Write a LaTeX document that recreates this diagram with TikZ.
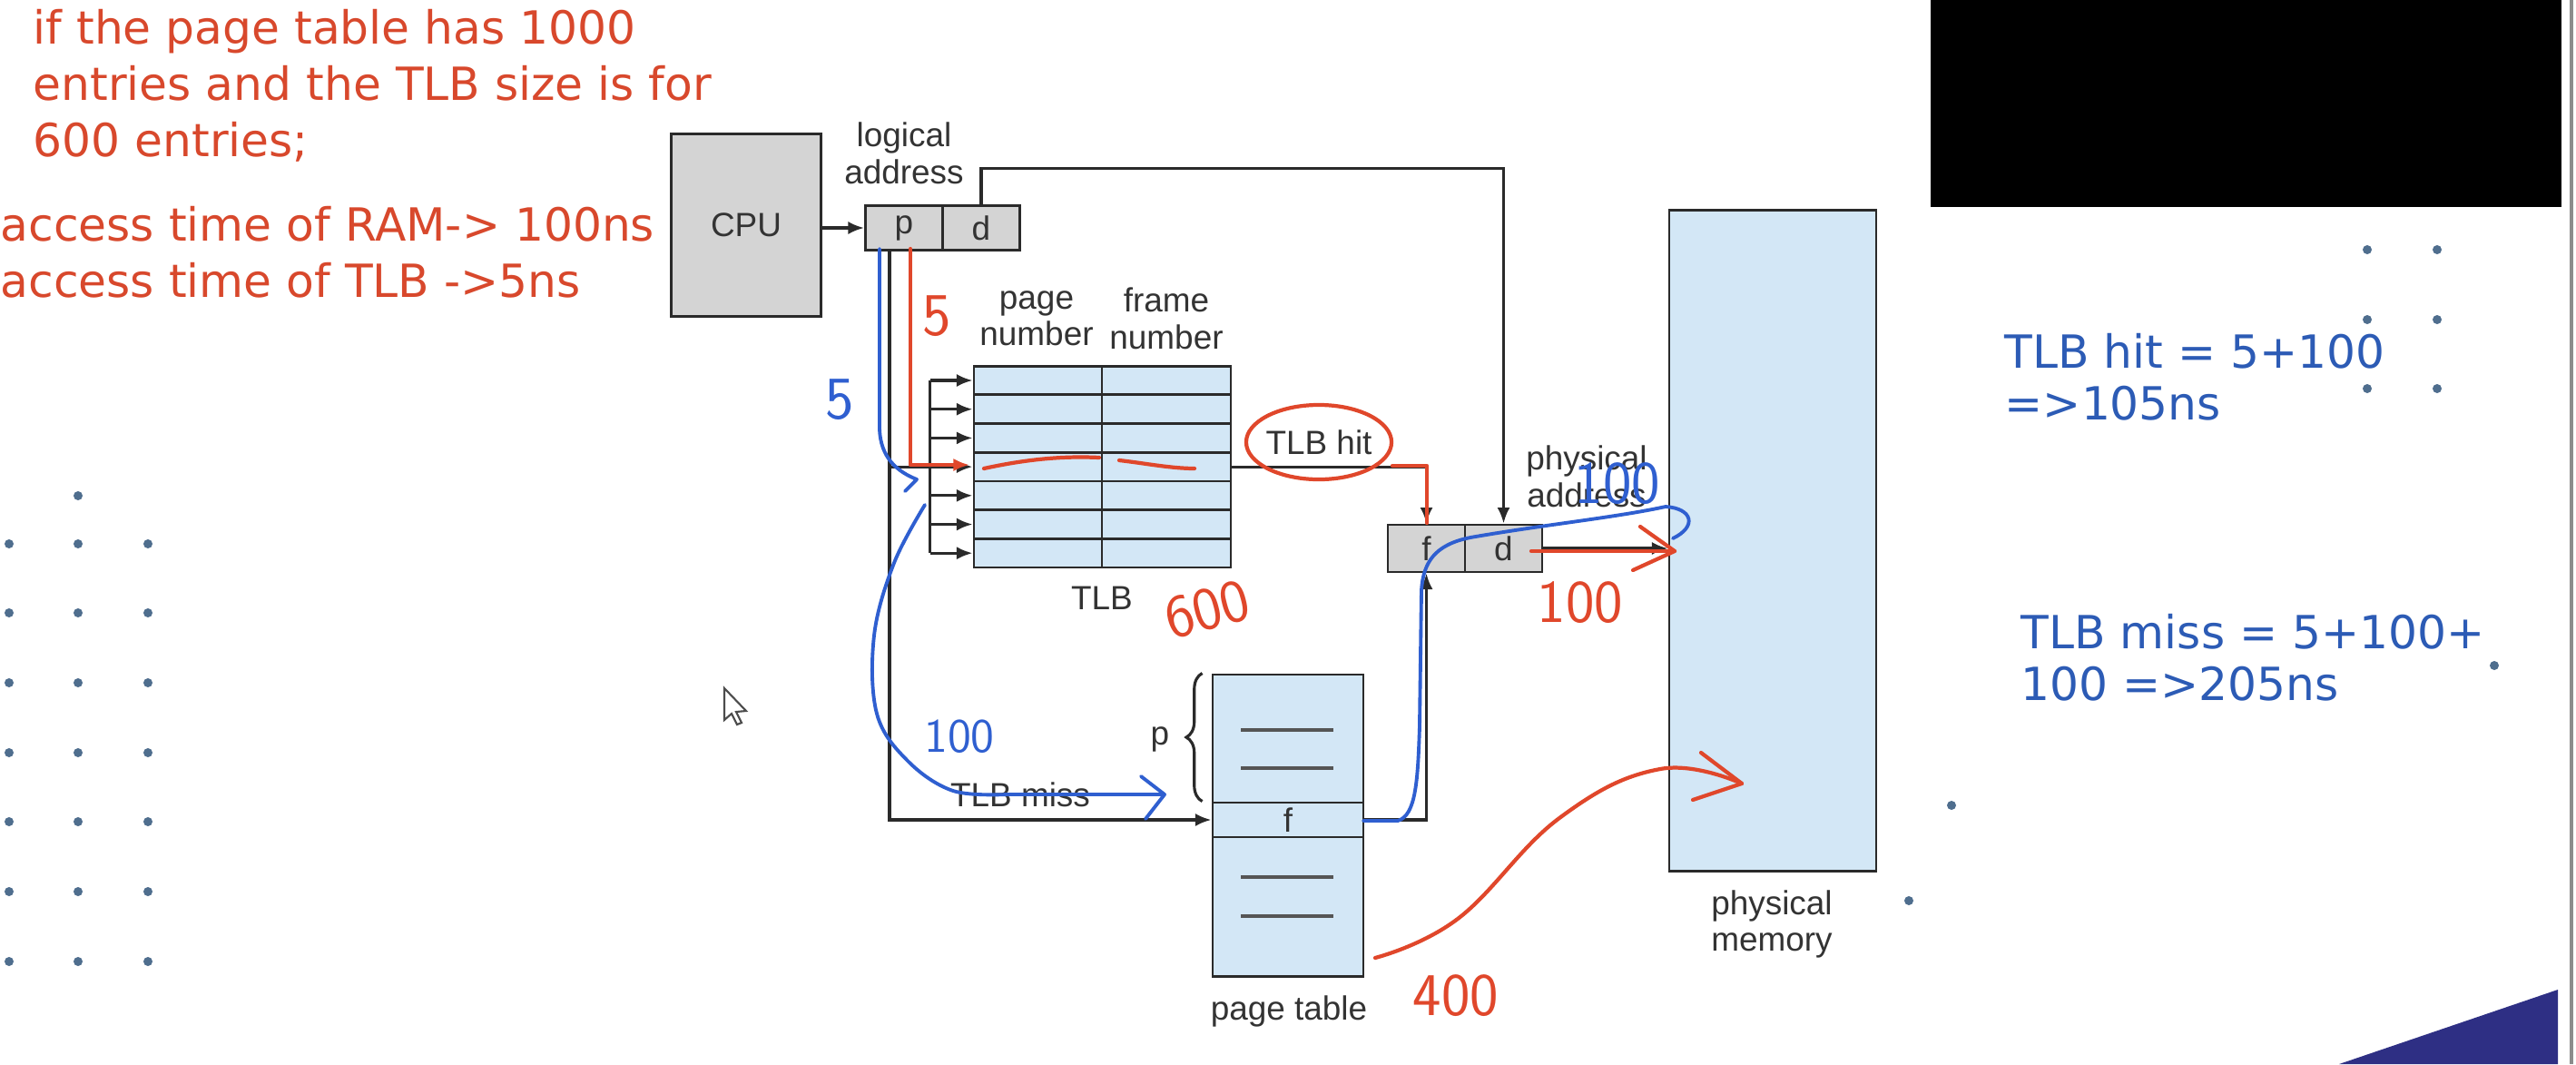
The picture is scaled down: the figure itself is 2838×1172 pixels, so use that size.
\documentclass[tikz,border=0pt]{standalone}
\usepackage{fontspec}
\setmainfont{Liberation Sans}
\newfontfamily\slidefont{DejaVu Sans}
\usetikzlibrary{arrows.meta,decorations.pathreplacing,calc}
\definecolor{cellgray}{HTML}{D4D4D4}
\definecolor{cellblue}{HTML}{D3E7F6}
\definecolor{linec}{HTML}{2A2A2A}
\definecolor{redpen}{HTML}{E0472B}
\definecolor{bluepen}{HTML}{2F5FD0}
\definecolor{redtext}{HTML}{D8482C}
\definecolor{bluetext}{HTML}{2C5BB5}
\definecolor{dotc}{HTML}{4F6E8E}
\definecolor{navy}{HTML}{2E2F84}

\begin{document}
\begin{tikzpicture}[x=0.01cm, y=-0.01cm, >={Latex[length=5pt,width=4pt]},
    lbl/.style={font=\fontsize{10.5}{11.5}\selectfont, text=black!80, align=center, inner sep=0pt},
    graybox/.style={lbl, draw=linec, fill=cellgray, line width=0.8pt},
    bluebox/.style={lbl, draw=linec, fill=cellblue, line width=0.8pt},
    wire/.style={draw=linec, line width=0.9pt},
    rpen/.style={draw=redpen, line width=1.2pt, line cap=round, line join=round},
    bpen/.style={draw=bluepen, line width=1.1pt, line cap=round, line join=round},
    hand/.style={font=\sffamily\fontsize{19}{19}\selectfont, inner sep=0pt},
    slide/.style={font=\slidefont\fontsize{14.3}{17.6}\selectfont, align=left, inner sep=0pt, anchor=north west}]

    % page
    \fill[white] (0,0) rectangle (2838,1172);
    \useasboundingbox (0,0) rectangle (2838,1172);
    \fill[black] (2127,0) rectangle (2822,228);
    \fill[navy] (2577,1172) -- (2818,1090) -- (2818,1172) -- cycle;
    \draw[black!45, line width=1.2pt] (2833,0) -- (2833,1172);

    % slide dots
    \foreach \dx in {10,86,163}
        \foreach \dy in {599,675,752,829,905,982,1059}
            \fill[dotc] (\dx,\dy) circle (0.05cm);
    \fill[dotc] (86,546) circle (0.05cm);
    \foreach \dx in {2608,2685}
        \foreach \dy in {275,352,428}
            \fill[dotc] (\dx,\dy) circle (0.05cm);
    \fill[dotc] (2748,733) circle (0.05cm);
    \fill[dotc] (2150,887) circle (0.05cm);
    \fill[dotc] (2103,992) circle (0.05cm);

    % slide text
    \node[slide, text=redtext] (question) at (36,10) {if the page table has 1000\\entries and the TLB size is for\\600 entries;};
    \node[slide, text=redtext] (times) at (0,227) {access time of RAM-> 100ns\\access time of TLB ->5ns};
    \node[slide, text=bluetext, font=\slidefont\fontsize{14.3}{16.2}\selectfont] (hitcalc) at (2208,367) {TLB hit = 5+100\\=>105ns};
    \node[slide, text=bluetext, font=\slidefont\fontsize{14.3}{16.2}\selectfont] (misscalc) at (2226,676) {TLB miss = 5+100+\\100 =>205ns};

    % CPU and logical address
    \node[graybox, minimum width=1.65cm, minimum height=2.01cm] (cpu) at (822,248) {CPU};
    \node[graybox, minimum width=0.85cm, minimum height=0.49cm] (pcell) at (996,251) {p};
    \node[graybox, minimum width=0.85cm, minimum height=0.49cm] (dcell) at (1081,251) {d};
    \node[lbl] (logaddr) at (996,169) {logical\\address};

    % TLB
    \foreach \r in {0,...,6} {
        \node[bluebox, minimum width=1.41cm, minimum height=0.317cm] (tp\r) at (1143.5,{419+31.7*\r}) {};
        \node[bluebox, minimum width=1.42cm, minimum height=0.317cm] (tf\r) at (1285,{419+31.7*\r}) {};
        \coordinate (bus\r) at ($(tp\r.west)+(-47,0)$);
        \draw[wire, ->] (bus\r) -- (tp\r.west);
    }
    \draw[wire] (bus0) -- (bus6);
    \node[lbl] (pnum) at (1142,351) {page\\number};
    \node[lbl] (fnum) at (1285,351) {frame\\number};
    \node[lbl] (tlblbl) at (1214,659) {TLB};

    % page table
    \node[bluebox, minimum width=1.66cm, minimum height=3.32cm] (ptable) at (1419,909) {};
    \node[bluebox, minimum width=1.66cm, minimum height=0.38cm] (pfrow) at (1419,903) {f};
    \foreach \yy in {804,846,966,1009}
        \draw[linec!80, line width=0.9pt] (1367,\yy) -- (1469,\yy);
    \draw[wire, decorate, decoration={brace, amplitude=5pt}]
        ([xshift=-0.1cm]pfrow.north west) -- ([xshift=-0.1cm]ptable.north west);
    \node[lbl] (plbl) at (1278,814) {p};
    \node[lbl] (ptlbl) at (1420,1114) {page table};

    % physical address and memory
    \node[graybox, minimum width=0.85cm, minimum height=0.52cm] (fcell) at (1571.5,604) {f};
    \node[graybox, minimum width=0.85cm, minimum height=0.52cm] (dcell2) at (1656.5,604) {d};
    \node[lbl] (physaddr) at (1748,525) {physical\\address};
    \node[bluebox, minimum width=2.28cm, minimum height=7.27cm] (mem) at (1953,595.5) {};
    \node[lbl] (memlbl) at (1952,1018) {physical\\memory};
    \node[lbl] (hitlbl) at (1453,487) {TLB hit};
    \node[lbl] (misslbl) at (1124,875) {TLB miss};

    % wires
    \coordinate (pdrop) at ($(pcell.south)+(-16,0)$);
    \draw[wire, ->] (cpu.east |- pcell.west) -- (pcell.west);
    \draw[wire, ->] (dcell.north) -- ++(0,-40) -| (dcell2.north);
    \draw[wire, ->] (pdrop) |- (pfrow.west);
    \draw[wire] (pdrop |- bus3) -- (bus3);
    \draw[wire, ->] (tf3.east) -| (fcell.north);
    \draw[wire, ->] (pfrow.east) -| (fcell.south);
    \draw[wire, ->] (dcell2.east) -- (dcell2.east -| mem.west);

    % red pen
    \draw[rpen, ->] (1003,274) -- (1003,512) -- (1068,512);
    \node[hand, text=redpen] (r5) at (1032,348) {5};
    \draw[rpen] (1084,516) .. controls (1130,506) and (1170,502) .. (1211,504);
    \draw[rpen] (1233,507) .. controls (1260,510) and (1290,516) .. (1316,516);
    \draw[rpen] (hitlbl) ellipse [x radius=0.8cm, y radius=0.41cm];
    \draw[rpen] (1534,513) -- (1572,513) -- (1572,576);
    \node[hand, text=redpen, rotate=15] (r600) at (1330,671) {600};
    \draw[rpen] (1687,607) -- (1845,607);
    \draw[rpen] (1807,580) -- (1845,607) -- (1799,628);
    \node[hand, text=redpen] (r100) at (1741,664) {100};
    \draw[rpen] plot[smooth, tension=0.7] coordinates {(1515,1055) (1606,1012) (1718,901) (1829,847) (1919,863)};
    \draw[rpen] (1874,829) -- (1919,863) -- (1865,881);
    \node[hand, text=redpen] (r400) at (1604,1097) {400};

    % blue pen
    \draw[bpen] (969,274) -- (969,470) .. controls (969,505) and (990,520) .. (1010,528) -- (997,541);
    \node[hand, text=bluepen] (b5) at (925,440) {5};
    \draw[bpen] plot[smooth, tension=0.6] coordinates {(1019,556) (985,620) (963,700) (966,786) (1000,838) (1050,871) (1110,875)} -- (1280,875);
    \draw[bpen] (1257,855) -- (1283,875) -- (1262,902);
    \node[hand, text=bluepen, font=\sffamily\fontsize{15}{15}\selectfont] (b100) at (1057,811) {100};
    \draw[bpen] (1502,904) -- (1540,904) .. controls (1560,898) and (1562,860) .. (1564,800) -- (1566,650)
        .. controls (1568,620) and (1580,600) .. (1620,592) .. controls (1700,578) and (1780,570) .. (1835,558);
    \draw[bpen] (1835,558) .. controls (1865,560) and (1870,580) .. (1843,593);
    \node[hand, text=bluepen] (b100b) at (1782,533) {100};

    % cursor
    \draw[black!70, fill=white, line width=0.6pt] (798,758) -- (798,793) -- (806,786) -- (812,798) -- (817,796) -- (811,784) -- (822,783) -- cycle;
\end{tikzpicture}
\end{document}
